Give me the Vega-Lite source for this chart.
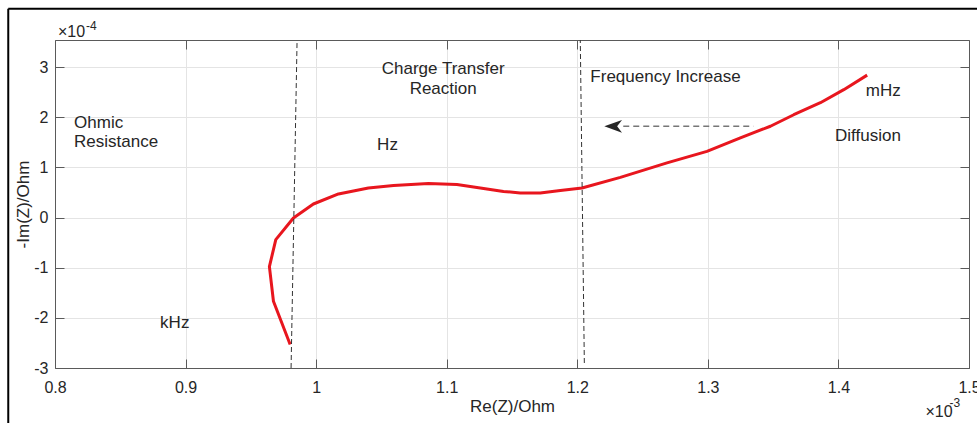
{
  "$schema": "https://vega.github.io/schema/vega-lite/v6.json",
  "width": 914,
  "height": 328,
  "autosize": {"type": "none"},
  "padding": {"left": 55, "top": 40, "right": 8, "bottom": 55},
  "background": "white",
  "config": {
    "view": {"stroke": null},
    "font": "Liberation Sans",
    "axis": {
      "labelFont": "Liberation Sans",
      "labelFontSize": 16,
      "labelColor": "#262626",
      "titleFont": "Liberation Sans",
      "titleFontSize": 17,
      "titleFontWeight": "normal",
      "titleColor": "#262626",
      "domainColor": "#5a5a5a",
      "tickColor": "#5a5a5a",
      "gridColor": "#e4e4e4",
      "labelFlush": false,
      "labelOverlap": false
    }
  },
  "datasets": {
    "curve": [
      {"i": 1, "re": 0.9801, "im": -2.53},
      {"i": 2, "re": 0.9673, "im": -1.67},
      {"i": 3, "re": 0.9642, "im": -0.98},
      {"i": 4, "re": 0.9691, "im": -0.44},
      {"i": 5, "re": 0.9826, "im": -0.01},
      {"i": 6, "re": 0.9979, "im": 0.27},
      {"i": 7, "re": 1.0171, "im": 0.47},
      {"i": 8, "re": 1.040, "im": 0.59},
      {"i": 9, "re": 1.0593, "im": 0.64},
      {"i": 10, "re": 1.086, "im": 0.68},
      {"i": 11, "re": 1.1078, "im": 0.66},
      {"i": 12, "re": 1.1257, "im": 0.59},
      {"i": 13, "re": 1.1435, "im": 0.52},
      {"i": 14, "re": 1.1563, "im": 0.49},
      {"i": 15, "re": 1.1716, "im": 0.49},
      {"i": 16, "re": 1.187, "im": 0.54},
      {"i": 17, "re": 1.2036, "im": 0.59},
      {"i": 18, "re": 1.233, "im": 0.80},
      {"i": 19, "re": 1.2687, "im": 1.09},
      {"i": 20, "re": 1.2993, "im": 1.32},
      {"i": 21, "re": 1.3249, "im": 1.59},
      {"i": 22, "re": 1.3479, "im": 1.82},
      {"i": 23, "re": 1.3658, "im": 2.05},
      {"i": 24, "re": 1.3862, "im": 2.29},
      {"i": 25, "re": 1.4041, "im": 2.55},
      {"i": 26, "re": 1.422, "im": 2.84}
    ],
    "dividers": [
      {"x": 0.9808, "y": -3, "x2": 0.9854, "y2": 3.54},
      {"x": 1.2054, "y": -2.9, "x2": 1.2023, "y2": 3.54}
    ],
    "arrowLine": [
      {"x": 1.2352, "x2": 1.3349, "y": 1.82}
    ],
    "arrowHead": [
      {"x": 1.2207, "y": 1.82}
    ],
    "frame": [
      {"x": 0.7642, "x2": 0.7642, "y": -4.3, "y2": 4.164},
      {"x": 0.7642, "x2": 1.52, "y": 4.164, "y2": 4.164}
    ],
    "labelsLeft": [
      {"x": 0.8146, "y": 1.794, "t": "Ohmic"},
      {"x": 0.8146, "y": 1.415, "t": "Resistance"},
      {"x": 0.8805, "y": -2.193, "t": "kHz"},
      {"x": 1.0467, "y": 1.355, "t": "Hz"},
      {"x": 1.21, "y": 2.70, "t": "Frequency Increase"},
      {"x": 1.4209, "y": 2.42, "t": "mHz"},
      {"x": 1.3974, "y": 1.52, "t": "Diffusion"}
    ],
    "labelsCenter": [
      {"x": 1.0973, "y": 2.87, "t": "Charge Transfer"},
      {"x": 1.0973, "y": 2.47, "t": "Reaction"}
    ],
    "expBase": [
      {"x": 0.8023, "y": 3.608, "t": "×10"},
      {"x": 1.4667, "y": -3.986, "t": "×10"}
    ],
    "expSup": [
      {"x": 0.8238, "y": 3.747, "t": "-4"},
      {"x": 1.4851, "y": -3.787, "t": "-3"}
    ]
  },
  "layer": [
    {
      "data": {"name": "curve"},
      "mark": {"type": "line", "color": "#e8161e", "strokeWidth": 3, "strokeJoin": "round"},
      "encoding": {
        "x": {
          "field": "re", "type": "quantitative",
          "scale": {"domain": [0.8, 1.5], "nice": false, "zero": false},
          "axis": {
            "orient": "bottom",
            "values": [0.8, 0.9, 1, 1.1, 1.2, 1.3, 1.4, 1.5],
            "format": "~g",
            "tickSize": -9,
            "labelPadding": 20,
            "grid": true,
            "title": "Re(Z)/Ohm",
            "titlePadding": 3
          }
        },
        "y": {
          "field": "im", "type": "quantitative",
          "scale": {"domain": [-3, 3.54], "nice": false, "zero": false},
          "axis": {
            "orient": "left",
            "values": [-3, -2, -1, 0, 1, 2, 3],
            "labelExpr": "toString(datum.value)",
            "tickSize": -9,
            "labelPadding": 16,
            "grid": true,
            "title": "-Im(Z)/Ohm",
            "titlePadding": 1
          }
        },
        "order": {"field": "i", "type": "quantitative"}
      }
    },
    {
      "data": {"name": "dividers"},
      "mark": {"type": "rule", "color": "#333333", "strokeWidth": 1, "strokeDash": [5, 3]},
      "encoding": {
        "x": {
          "field": "x", "type": "quantitative",
          "scale": {"domain": [0.8, 1.5], "nice": false, "zero": false},
          "axis": {
            "orient": "top",
            "values": [0.8, 0.9, 1, 1.1, 1.2, 1.3, 1.4, 1.5],
            "labels": false,
            "tickSize": -9,
            "grid": false,
            "title": null
          }
        },
        "y": {
          "field": "y", "type": "quantitative",
          "scale": {"domain": [-3, 3.54], "nice": false, "zero": false},
          "axis": {
            "orient": "right",
            "values": [-3, -2, -1, 0, 1, 2, 3],
            "labels": false,
            "tickSize": -9,
            "grid": false,
            "title": null
          }
        },
        "x2": {"field": "x2"},
        "y2": {"field": "y2"}
      }
    },
    {
      "data": {"name": "arrowLine"},
      "mark": {"type": "rule", "color": "#777777", "strokeWidth": 1.3, "strokeDash": [6, 4]},
      "encoding": {
        "x": {"field": "x", "type": "quantitative", "axis": null},
        "x2": {"field": "x2"},
        "y": {"field": "y", "type": "quantitative", "axis": null}
      }
    },
    {
      "data": {"name": "arrowHead"},
      "mark": {"type": "point", "filled": true, "color": "#262626", "opacity": 1, "size": 313, "shape": "M0,0 L2,-0.72 L1.45,0 L2,0.72 Z"},
      "encoding": {
        "x": {"field": "x", "type": "quantitative", "axis": null},
        "y": {"field": "y", "type": "quantitative", "axis": null}
      }
    },
    {
      "data": {"name": "frame"},
      "mark": {"type": "rule", "color": "#000000", "strokeWidth": 2},
      "encoding": {
        "x": {"field": "x", "type": "quantitative", "axis": null},
        "x2": {"field": "x2"},
        "y": {"field": "y", "type": "quantitative", "axis": null},
        "y2": {"field": "y2"}
      }
    },
    {
      "data": {"name": "labelsLeft"},
      "mark": {"type": "text", "align": "left", "baseline": "alphabetic", "fontSize": 17, "font": "Liberation Sans", "color": "#262626"},
      "encoding": {
        "x": {"field": "x", "type": "quantitative", "axis": null},
        "y": {"field": "y", "type": "quantitative", "axis": null},
        "text": {"field": "t"}
      }
    },
    {
      "data": {"name": "labelsCenter"},
      "mark": {"type": "text", "align": "center", "baseline": "alphabetic", "fontSize": 17, "font": "Liberation Sans", "color": "#262626"},
      "encoding": {
        "x": {"field": "x", "type": "quantitative", "axis": null},
        "y": {"field": "y", "type": "quantitative", "axis": null},
        "text": {"field": "t"}
      }
    },
    {
      "data": {"name": "expBase"},
      "mark": {"type": "text", "align": "left", "baseline": "alphabetic", "fontSize": 16, "font": "Liberation Sans", "color": "#262626"},
      "encoding": {
        "x": {"field": "x", "type": "quantitative", "axis": null},
        "y": {"field": "y", "type": "quantitative", "axis": null},
        "text": {"field": "t"}
      }
    },
    {
      "data": {"name": "expSup"},
      "mark": {"type": "text", "align": "left", "baseline": "alphabetic", "fontSize": 12, "font": "Liberation Sans", "color": "#262626"},
      "encoding": {
        "x": {"field": "x", "type": "quantitative", "axis": null},
        "y": {"field": "y", "type": "quantitative", "axis": null},
        "text": {"field": "t"}
      }
    }
  ]
}
